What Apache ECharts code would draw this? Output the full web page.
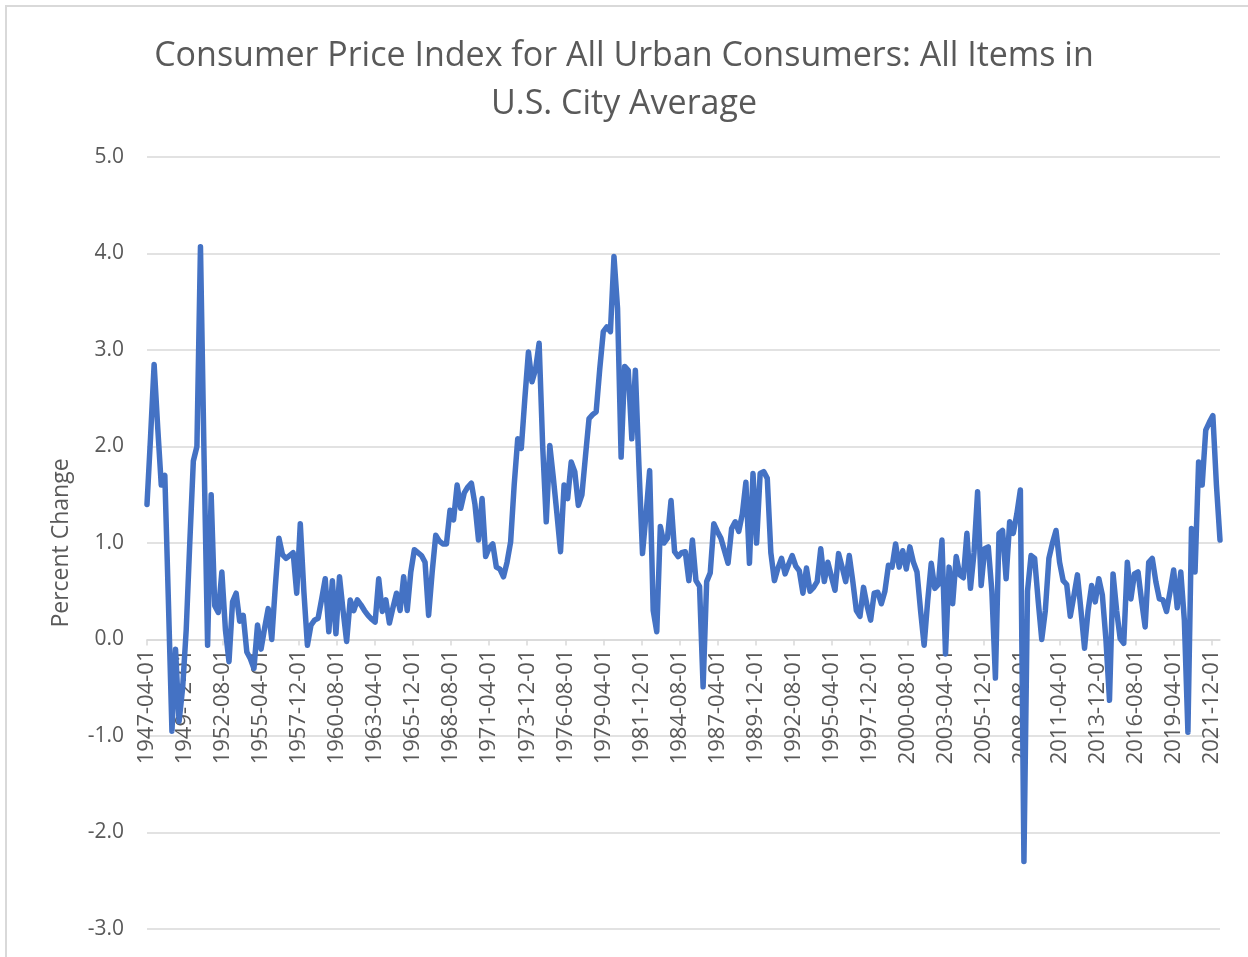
<!DOCTYPE html>
<html>
<head>
<meta charset="utf-8">
<title>CPI Percent Change</title>
<script src="https://cdn.jsdelivr.net/npm/echarts@6/dist/echarts.min.js"></script>
<style>
    html, body { margin: 0; padding: 0; background: #fff; }
    #frame { position: absolute; left: 5px; top: 5px; width: 1243px; height: 952px;
             border-left: 2px solid #d9d9d9; border-top: 2px solid #d9d9d9; box-sizing: border-box; }
    #container { position: absolute; left: 0; top: 0; width: 1248px; height: 957px; }
</style>
</head>
<body>
<div id="frame"></div>
<div id="container"></div>
<script>
var chart;

// first quarter of the series and last one, data is quarterly (3 month % change)
var startYear = 1947, startMonth = 4;
var endYear = 2022, endMonth = 7;

// quarterly percent change, split by decade
var cpi1940s = [1.4, 2.1, 2.85, 2.2, 1.6, 1.7, 0.4, -0.95, -0.1, -0.85, -0.5];
var cpi1950s = [0.1, 1.0, 1.85, 2.0, 4.07, 1.9, -0.06, 1.5, 0.35, 0.28,
    0.7, 0.1, -0.23, 0.39, 0.48, 0.19, 0.25, -0.13, -0.2, -0.3,
    0.15, -0.1, 0.12, 0.32, 0.0, 0.55, 1.05, 0.88, 0.84, 0.87,
    0.9, 0.48, 1.2, 0.5, -0.06, 0.15, 0.2, 0.22, 0.42, 0.63];
var cpi1960s = [0.08, 0.61, 0.06, 0.65, 0.3, -0.02, 0.41, 0.3, 0.41, 0.36,
    0.3, 0.25, 0.21, 0.18, 0.63, 0.29, 0.41, 0.17, 0.33, 0.48,
    0.3, 0.65, 0.3, 0.7, 0.93, 0.9, 0.87, 0.8, 0.25, 0.7,
    1.08, 1.02, 0.99, 0.99, 1.34, 1.24, 1.6, 1.36, 1.52, 1.58];
var cpi1970s = [1.62, 1.4, 1.03, 1.46, 0.86, 0.95, 0.99, 0.75, 0.73, 0.65,
    0.8, 1.01, 1.6, 2.08, 1.98, 2.5, 2.98, 2.67, 2.8, 3.07,
    2.0, 1.22, 2.01, 1.67, 1.3, 0.91, 1.6, 1.46, 1.84, 1.74,
    1.39, 1.5, 1.9, 2.29, 2.33, 2.36, 2.8, 3.19, 3.24, 3.19];
var cpi1980s = [3.97, 3.43, 1.89, 2.83, 2.79, 2.08, 2.79, 1.8, 0.89, 1.3,
    1.75, 0.3, 0.08, 1.17, 1.0, 1.05, 1.44, 0.91, 0.86, 0.9,
    0.91, 0.61, 1.03, 0.61, 0.55, -0.49, 0.6, 0.69, 1.2, 1.12,
    1.05, 0.92, 0.79, 1.15, 1.22, 1.12, 1.3, 1.63, 0.79, 1.72];
var cpi1990s = [1.0, 1.72, 1.74, 1.67, 0.9, 0.61, 0.74, 0.84, 0.68, 0.78,
    0.87, 0.76, 0.71, 0.48, 0.74, 0.5, 0.54, 0.6, 0.94, 0.6,
    0.8, 0.65, 0.51, 0.89, 0.75, 0.6, 0.87, 0.6, 0.3, 0.24,
    0.54, 0.35, 0.2, 0.48, 0.49, 0.37, 0.5, 0.77, 0.75, 0.99];
var cpi2000s = [0.75, 0.92, 0.73, 0.96, 0.8, 0.7, 0.3, -0.06, 0.4, 0.79,
    0.53, 0.57, 1.03, -0.15, 0.75, 0.37, 0.86, 0.67, 0.64, 1.1,
    0.53, 0.9, 1.53, 0.56, 0.94, 0.96, 0.5, -0.4, 1.1, 1.13,
    0.63, 1.22, 1.1, 1.3, 1.55, -2.3, 0.5, 0.87, 0.84, 0.4];
var cpi2010s = [0.0, 0.3, 0.84, 1.0, 1.13, 0.8, 0.61, 0.57, 0.24, 0.45,
    0.67, 0.3, -0.09, 0.3, 0.56, 0.39, 0.63, 0.46, 0.0, -0.63,
    0.68, 0.3, 0.01, -0.04, 0.8, 0.42, 0.68, 0.7, 0.4, 0.13,
    0.8, 0.84, 0.6, 0.42, 0.41, 0.29, 0.5, 0.72, 0.33, 0.7];
var cpi2020s = [0.2, -0.96, 1.15, 0.7, 1.84, 1.6, 2.17, 2.25, 2.32, 1.6, 1.03];

var yTicks = { min: -3, max: 5, interval: 1 };
var labelEvery = 32; // months between x labels

var titleText = 'Consumer Price Index for All Urban Consumers: All Items in\nU.S. City Average';
var yName = 'Percent Change';

var gridBox = { left: 147, right: 28, top: 157, bottom: 28 };
var chartHeight = 957;

function pad(n) {
    return n < 10 ? '0' + n : '' + n;
}

// monthly category labels, the axis is a date axis in months
function buildCategories() {
    var cats = [];
    var y = startYear, m = startMonth;
    while (y < endYear || (y == endYear && m <= endMonth)) {
        cats.push(y + '-' + pad(m) + '-01');
        m++;
        if (m > 12) { m = 1; y++; }
    }
    return cats;
}

function buildSeries() {
    var values = [].concat(cpi1940s, cpi1950s, cpi1960s, cpi1970s, cpi1980s,
        cpi1990s, cpi2000s, cpi2010s, cpi2020s);
    var data = [];
    for (var i = 0; i < values.length; i++) {
        data.push([i * 3, values[i]]);
    }
    return data;
}

// x axis sits on the 0.0 line, moved up from the grid bottom
function zeroOffset() {
    var h = chartHeight - gridBox.top - gridBox.bottom;
    return -h * (0 - yTicks.min) / (yTicks.max - yTicks.min);
}

function getChart() {
    if (chart != undefined) {
        return chart;
    }
    chart = echarts.init(document.getElementById('container'), null, { renderer: 'canvas' });
    return chart;
}

function setOption() {
    var gray = '#595959';
    var lineGray = '#d9d9d9';
    var font = 'Open Sans';
    var option = {
        animation: false,
        backgroundColor: 'transparent',
        title: {
            text: titleText,
            left: 'center',
            top: 27,
            textStyle: { fontFamily: font, fontSize: 34, fontWeight: 'normal', color: gray, lineHeight: 48 }
        },
        grid: {
            left: gridBox.left, right: gridBox.right, top: gridBox.top, bottom: gridBox.bottom,
            containLabel: false, outerBoundsMode: 'none'
        },
        xAxis: {
            type: 'category',
            data: buildCategories(),
            boundaryGap: false,
            position: 'bottom',
            offset: zeroOffset(),
            axisLine: { onZero: false, lineStyle: { color: lineGray, width: 1.5 } },
            axisTick: { show: true, interval: labelEvery - 1, length: 6, lineStyle: { color: lineGray, width: 1.5 } },
            axisLabel: {
                interval: labelEvery - 1,
                rotate: 90,
                margin: 10,
                fontFamily: font,
                fontSize: 22,
                color: gray
            },
            splitLine: { show: false }
        },
        yAxis: {
            type: 'value',
            min: yTicks.min,
            max: yTicks.max,
            interval: yTicks.interval,
            name: yName,
            nameLocation: 'middle',
            nameGap: 74,
            nameTextStyle: { fontFamily: font, fontSize: 23, color: gray },
            axisLine: { show: false },
            axisTick: { show: false },
            axisLabel: {
                margin: 23,
                fontFamily: font,
                fontSize: 21,
                color: gray,
                formatter: function (v) { return v.toFixed(1); }
            },
            splitLine: { lineStyle: { color: lineGray, width: 1.5 } }
        },
        series: [{
            type: 'line',
            data: buildSeries(),
            showSymbol: false,
            symbol: 'none',
            lineStyle: { color: '#4472C4', width: 5.5, join: 'round', cap: 'round' },
            itemStyle: { color: '#4472C4' }
        }]
    };
    getChart().setOption(option, true);
}

setOption();
</script>
</body>
</html>
